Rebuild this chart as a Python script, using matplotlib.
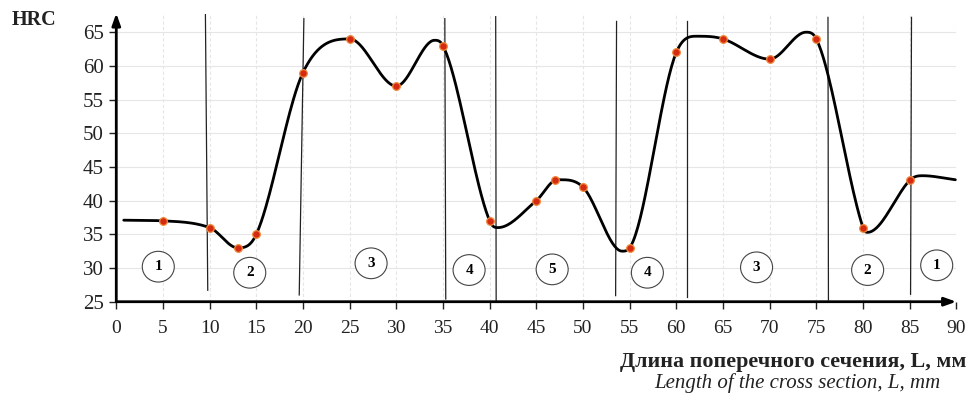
import numpy as np
import matplotlib.pyplot as plt
from matplotlib.patches import Ellipse

# measured points (red dots)
length = [5, 10, 13, 15, 20, 25, 30, 35, 40, 45, 47, 50, 55, 60, 65, 70, 75, 80, 85]
hrc = [37, 36, 33, 35, 59, 64, 57, 63, 37, 40, 43, 42, 33, 62, 64, 61, 64, 36, 43]

# extra points (ends and turning points)
extra_x = [0.8, 34.1, 40.9, 47.6, 54.2, 62.2, 73.9, 80.5, 86.4, 89.9]
extra_y = [37.1, 63.8, 36.0, 43.1, 32.5, 64.4, 65.0, 35.3, 43.7, 43.1]

# zone borders: x at top / bottom, y at top / bottom
zone_x_top = [9.55, 20.1, 35.2, 40.65, 53.6, 61.1, 76.25, 85.2]
zone_x_bot = [9.8, 19.6, 35.3, 40.7, 53.5, 61.1, 76.3, 85.1]
zone_y_top = [67.6, 67.0, 67.0, 67.3, 66.6, 66.6, 67.2, 67.2]
zone_y_bot = [26.7, 26.0, 25.4, 25.0, 25.9, 25.7, 25.25, 26.1]

# zone numbers in circles
circle_x = [4.5, 14.3, 27.3, 37.8, 46.7, 56.9, 68.6, 80.5, 87.9]
circle_y = [30.2, 29.3, 30.7, 29.7, 29.8, 29.3, 30.1, 29.7, 30.4]
circle_lbl = ['1', '2', '3', '4', '5', '4', '3', '2', '1']


def smooth(xk, yk, n=40):
    # piecewise cubic hermite, flat at turning points, limited against overshoot
    xk = np.asarray(xk, float)
    yk = np.asarray(yk, float)
    d = np.diff(yk) / np.diff(xk)
    m = np.zeros(len(xk))
    m[0] = d[0]
    m[-1] = d[-1]
    for i in range(1, len(xk) - 1):
        if d[i - 1] * d[i] <= 0:
            m[i] = 0
        else:
            m[i] = (yk[i + 1] - yk[i - 1]) / (xk[i + 1] - xk[i - 1])
    for i in range(len(d)):
        if d[i] == 0:
            m[i] = m[i + 1] = 0
            continue
        a = m[i] / d[i]
        b = m[i + 1] / d[i]
        s = a * a + b * b
        if s > 9:
            t = 3 / np.sqrt(s)
            m[i] = t * a * d[i]
            m[i + 1] = t * b * d[i]
    xs, ys = [], []
    for i in range(len(d)):
        h = xk[i + 1] - xk[i]
        t = np.linspace(0, 1, n)
        h00 = 2 * t**3 - 3 * t**2 + 1
        h10 = t**3 - 2 * t**2 + t
        h01 = -2 * t**3 + 3 * t**2
        h11 = t**3 - t**2
        xs.extend(xk[i] + t * h)
        ys.extend(h00 * yk[i] + h10 * h * m[i] + h01 * yk[i + 1] + h11 * h * m[i + 1])
    return np.array(xs), np.array(ys)


kx = np.array(length + extra_x)
ky = np.array(hrc + extra_y)
order = np.argsort(kx)
cx, cy = smooth(kx[order], ky[order])

plt.rcParams['font.family'] = ['Liberation Serif', 'DejaVu Serif']

fig = plt.figure(figsize=(9.69, 4.01), dpi=100)
ax = fig.add_axes([0.12, 0.2476, 0.8669, 0.7192])
ax.set_xlim(0, 90)
ax.set_ylim(25, 67.8)

for s in ax.spines.values():
    s.set_visible(False)

ax.set_xticks(np.arange(0, 91, 5))
ax.set_yticks(np.arange(25, 66, 5))
ax.tick_params(axis='x', direction='out', length=5, width=1, labelsize=14, pad=8, colors='#222222')
ax.tick_params(axis='y', direction='out', length=5, width=1, labelsize=15, pad=4, colors='#222222')
ax.grid(axis='y', color='#e6e6e6', lw=0.8)
ax.grid(axis='x', color='#e6e6e6', lw=0.8, ls=(0, (3, 2)))
ax.set_axisbelow(True)

# axes with arrows
ax.annotate('', xy=(0, 1.0), xytext=(0, 0), xycoords='axes fraction',
            arrowprops=dict(arrowstyle='-|>,head_length=0.7,head_width=0.25', color='black', lw=2,
                            shrinkA=0, shrinkB=0), annotation_clip=False)
ax.annotate('', xy=(1.0, 0), xytext=(0, 0), xycoords='axes fraction',
            arrowprops=dict(arrowstyle='-|>,head_length=0.7,head_width=0.25', color='black', lw=2,
                            shrinkA=0, shrinkB=0), annotation_clip=False)

for xt, xb, yt, yb in zip(zone_x_top, zone_x_bot, zone_y_top, zone_y_bot):
    ax.plot([xt, xb], [yt, yb], color='#222222', lw=0.9, clip_on=False, zorder=2)

ax.plot(cx, cy, color='black', lw=2, solid_capstyle='round', zorder=3, clip_on=False)
ax.plot(length, hrc, 'o', ms=5.5, mfc='#d42a12', mec='#f08a3a', mew=0.9, zorder=4, clip_on=False)

for x, y, t in zip(circle_x, circle_y, circle_lbl):
    ax.add_patch(Ellipse((x, y), 3.43, 4.56, fc='white', ec='#444444', lw=0.8, zorder=2))
    ax.text(x, y, t, ha='center', va='center', fontsize=11, fontweight='bold', zorder=5)

fig.text(34 / 969, 1 - 20 / 401, 'HRC', ha='center', va='center', fontsize=14.5, fontweight='bold',
         color='#222222')
fig.text(966 / 969, 1 - 362 / 401, 'Длина поперечного сечения, L, мм', ha='right', va='center',
         fontsize=15.8, fontweight='bold', color='#222222')
fig.text(940 / 969, 1 - 383 / 401, 'Length of the cross section, L, mm', ha='right', va='center',
         fontsize=15, style='italic', color='#222222')

fig.savefig('out.png', dpi=100)
